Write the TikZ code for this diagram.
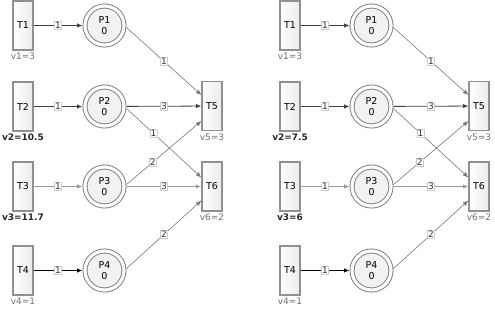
\documentclass[tikz,border=0pt]{standalone}
\usepackage{fontspec}
\setmainfont{DejaVu Sans}
\usetikzlibrary{arrows.meta, positioning}

\definecolor{tborder}{HTML}{909090}
\definecolor{pborder}{HTML}{7A7A7A}
\definecolor{pfill}{HTML}{F2F2F2}
\definecolor{arcdark}{HTML}{404040}
\definecolor{arcmid}{HTML}{777777}
\definecolor{arclight}{HTML}{999999}
\definecolor{vgray}{HTML}{707070}

\tikzset{
  trans/.style={draw=tborder, line width=1.3bp, left color=white, right color=black!8,
    minimum width=20bp, minimum height=49bp, inner sep=0pt,
    font=\fontsize{9.5}{10}\selectfont},
  place/.style={circle, draw=pborder, line width=0.9bp, double=white, double distance=3.2bp,
    fill=pfill, minimum size=39bp, inner sep=0pt, outer sep=2.5bp, align=center,
    font=\fontsize{9.5}{10.5}\selectfont},
  vlab/.style={text=vgray, inner sep=1bp},
  vbold/.style={text=black!85, inner sep=1bp, font=\fontsize{9}{10}\selectfont\bfseries},
  wt/.style={draw=black!20, fill=white, inner sep=0.6bp, text=black!80,
    font=\fontsize{9}{9}\selectfont},
  arc/.style={->, line width=0.8bp},
}

\begin{document}
\begin{tikzpicture}[x=1bp,y=-1bp,>={Latex[length=5.5bp,width=4.5bp]},
    font=\fontsize{9}{10}\selectfont]
  \useasboundingbox (0,0) rectangle (495,311);
  % left: first run, right: second run (only v2 and v3 change)
  \foreach \s/\ox/\vb/\vc in {L/0/10.5/11.7, R/267/7.5/6}{
  \begin{scope}[xshift=\ox bp]
    % transitions
    \node[trans] (\s-T1) at (23,25.5) {T1};
    \node[trans] (\s-T2) at (23,106.5) {T2};
    \node[trans] (\s-T3) at (23,186.5) {T3};
    \node[trans] (\s-T4) at (23,270.5) {T4};
    \node[trans] (\s-T5) at (212,106) {T5};
    \node[trans] (\s-T6) at (212,186.5) {T6};
    \node[vlab, below=1bp of \s-T1] {v1=3};
    \node[vbold, below=1bp of \s-T2] {v2=\vb};
    \node[vbold, below=1bp of \s-T3] {v3=\vc};
    \node[vlab, below=1bp of \s-T4] {v4=1};
    \node[vlab, below=1bp of \s-T5] {v5=3};
    \node[vlab, below=1bp of \s-T6] {v6=2};

    % places
    \node[place] (\s-P1) at (104.5,25.5) {P1\\0};
    \node[place] (\s-P2) at (104.5,106.5) {P2\\0};
    \node[place] (\s-P3) at (104.5,186.5) {P3\\0};
    \node[place] (\s-P4) at (104.5,270.5) {P4\\0};

    % input arcs
    \draw[arc, draw=arcdark] (\s-T1) -- node[wt]{1} (\s-P1);
    \draw[arc, draw=arcdark] (\s-T2) -- node[wt]{1} (\s-P2);
    \draw[arc, draw=arclight, line width=1.2bp] (\s-T3) -- node[wt]{1} (\s-P3);
    \draw[arc, draw=black, line width=1.2bp] (\s-T4) -- node[wt]{1} (\s-P4);

    % output arcs
    \draw[arc, draw=arcmid, line width=0.6bp] (\s-P1.-5)
      -- node[wt]{1} ([yshift=11bp]\s-T5.west);
    \draw[arc, draw=arcdark] (\s-P2) -- node[wt]{3} (\s-T5);
    \draw[arc, draw=arcmid, line width=0.6bp] (\s-P2.-5)
      -- node[wt, pos=0.36]{1} ([yshift=9bp]\s-T6.west);
    \draw[arc, draw=arcmid, line width=0.6bp] (\s-P3.5)
      -- node[wt, pos=0.35]{2} ([yshift=-15bp]\s-T5.west);
    \draw[arc, draw=arclight, line width=1.4bp] (\s-P3) -- node[wt]{3} (\s-T6);
    \draw[arc, draw=arcmid, line width=0.6bp] (\s-P4.5)
      -- node[wt]{2} ([yshift=-14bp]\s-T6.west);
  \end{scope}
  }
\end{tikzpicture}
\end{document}
